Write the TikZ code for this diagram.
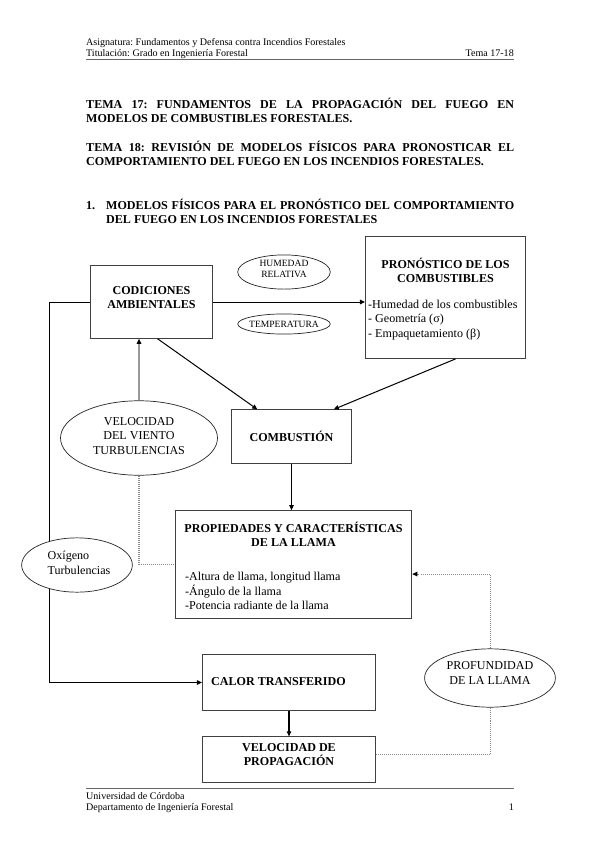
\documentclass[tikz,border=0pt]{standalone}
\usepackage{fontspec}
\setmainfont{Liberation Serif}
\usetikzlibrary{positioning, shapes.geometric, arrows.meta}
\frenchspacing
\newcommand{\hdrfont}{\fontsize{10}{11.5}\selectfont}
\newcommand{\ttlfont}{\fontsize{12}{14}\selectfont\bfseries}
\newcommand{\bxfont}{\fontsize{12}{14}\selectfont\bfseries}
\newcommand{\txtfont}{\fontsize{12}{14.5}\selectfont}
\newcommand{\smbfont}{\fontsize{9.5}{11}\selectfont}
\tikzset{
lbl/.style={inner sep=0pt},
box/.style={draw=black!75, line width=1pt, rectangle, fill=white},
bubble/.style={draw=black!85, line width=0.7pt, ellipse, fill=white, inner sep=0pt},
flow/.style={draw=black, line width=1pt, -{Triangle[length=5pt, width=4.5pt]}},
wind/.style={draw=black!40, line width=1pt, -{Triangle[length=5pt, width=4.5pt, color=black]}},
hint/.style={draw=black!45, line width=1pt, densely dotted},
hintarrow/.style={hint, -{Triangle[length=5pt, width=4.5pt, color=black]}},
rule/.style={draw=black!60, line width=0.6pt},
}

\begin{document}
\begin{tikzpicture}[x=0.9937pt, y=-0.9937pt]
    \useasboundingbox (0,0) rectangle (599,848);

    %header
    \node[lbl, anchor=base west, font=\hdrfont] (asig) at (86,45) {Asignatura: Fundamentos y Defensa contra Incendios Forestales};
    \node[lbl, anchor=base west, font=\hdrfont] (titul) at (86,56) {Titulación: Grado en Ingeniería Forestal};
    \node[lbl, anchor=base east, font=\hdrfont] (tema) at (514,56) {Tema 17-18};
    \draw[rule] (86,59) -- (514,59);

    %titles
    \node[lbl, anchor=base west, font=\ttlfont] (t17a) at (86,108) {\makebox[425.3pt][s]{TEMA 17: FUNDAMENTOS DE LA PROPAGACIÓN DEL FUEGO EN}};
    \node[lbl, anchor=base west, font=\ttlfont] (t17b) at (86,122) {MODELOS DE COMBUSTIBLES FORESTALES.};
    \node[lbl, anchor=base west, font=\ttlfont] (t18a) at (86,151) {\makebox[425.3pt][s]{TEMA 18: REVISIÓN DE MODELOS FÍSICOS PARA PRONOSTICAR EL}};
    \node[lbl, anchor=base west, font=\ttlfont] (t18b) at (86,165) {COMPORTAMIENTO DEL FUEGO EN LOS INCENDIOS FORESTALES.};
    \node[lbl, anchor=base west, font=\ttlfont] (num1) at (86,209) {1.};
    \node[lbl, anchor=base west, font=\ttlfont] (sec1a) at (106,209) {\makebox[405.4pt][s]{MODELOS FÍSICOS PARA EL PRONÓSTICO DEL COMPORTAMIENTO}};
    \node[lbl, anchor=base west, font=\ttlfont] (sec1b) at (106,223) {DEL FUEGO EN LOS INCENDIOS FORESTALES};

    %boxes
    \node[box, minimum width=121, minimum height=72]  (cond) at (151.5,302) { };
    \node[box, minimum width=159, minimum height=121] (pron) at (445.5,297.5) { };
    \node[box, minimum width=119, minimum height=53]  (comb) at (291.5,436.5) { };
    \node[box, minimum width=235, minimum height=107] (prop) at (293.5,564.5) { };
    \node[box, minimum width=172, minimum height=55]  (calor) at (289,682.5) { };
    \node[box, minimum width=172, minimum height=45]  (velp) at (289,759.5) { };

    %box texts
    \node[lbl, font=\bxfont, align=center] (condtxt) at (151.5,298) {CODICIONES\\AMBIENTALES};
    \node[lbl, font=\bxfont, align=center] (prontxt) at (445.5,270.5) {PRONÓSTICO DE LOS\\COMBUSTIBLES};
    \node[lbl, font=\txtfont, align=left, anchor=west] (pronlist) at (368,320) {-Humedad de los combustibles\\- Geometría (σ)\\- Empaquetamiento (β)};
    \node[lbl, font=\bxfont] (combtxt) at (291.5,436.5) {COMBUSTIÓN};
    \node[lbl, font=\bxfont, align=center, text height=8.5pt] (proptxt) at (293.5,542) {PROPIEDADES Y CARACTERÍSTICAS\\DE LA LLAMA};
    \node[lbl, font=\txtfont, align=left, anchor=west] (proplist) at (185,591) {-Altura de llama, longitud llama\\-Ángulo de la llama\\-Potencia radiante de la llama};
    \node[lbl, font=\bxfont, anchor=west] (calortxt) at (211,682) {CALOR TRANSFERIDO};
    \node[lbl, font=\bxfont, align=center] (velptxt) at (289,755) {VELOCIDAD DE\\PROPAGACIÓN};

    %bubbles
    \node[bubble, minimum width=92, minimum height=34]  (hum) at (284,272) { };
    \node[bubble, minimum width=92, minimum height=20]  (temp) at (284,324) { };
    \node[bubble, minimum width=156, minimum height=74] (vel) at (139,438) { };
    \node[bubble, minimum width=130, minimum height=58] (prof) at (490,678) { };

    \node[lbl, font=\smbfont, align=center] (humtxt) at (284,269) {HUMEDAD\\RELATIVA};
    \node[lbl, font=\smbfont] (temptxt) at (284,324) {TEMPERATURA};
    \node[lbl, font=\txtfont, align=center] (veltxt) at (139,436) {VELOCIDAD\\DEL VIENTO\\TURBULENCIAS};
    \node[lbl, font=\txtfont, align=center] (proftxt) at (490,673) {PROFUNDIDAD\\DE LA LLAMA};

    %connectors
    \draw[flow] (cond.east) -- (pron.west |- cond.east);
    \draw[flow] ([xshift=6pt]cond.south) -- ([xshift=-34pt]comb.north);
    \draw[flow] ([xshift=10pt]pron.south) -- ([xshift=42pt]comb.north);
    \draw[flow] (comb.south) -- (comb.south |- prop.north);
    \draw[flow] (calor.south) -- (calor.south |- velp.north);
    \draw[wind] (vel.north) -- (vel.north |- cond.south);
    \draw[hint] (vel.south) |- (prop.west);
    \draw[flow] (cond.west) -- ++(-41,0) |- (calor.west);
    \draw[hint] ([yshift=5pt]velp.east) -| (prof.south);
    \draw[hintarrow] (prof.north) |- ([yshift=-9.5pt]prop.east);

    %oxygen bubble over the left line
    \node[bubble, minimum width=110, minimum height=54] (oxy) at (77,565) { };
    \node[lbl, font=\txtfont, align=left] (oxytxt) at (79,563) {Oxígeno\\Turbulencias};

    %footer
    \draw[rule] (86,788) -- (514,788);
    \node[lbl, anchor=base west, font=\hdrfont] (univ) at (86,799) {Universidad de Córdoba};
    \node[lbl, anchor=base west, font=\hdrfont] (dept) at (86,810) {Departamento de Ingeniería Forestal};
    \node[lbl, anchor=base east, font=\hdrfont] (page) at (514,810) {1};
\end{tikzpicture}
\end{document}
